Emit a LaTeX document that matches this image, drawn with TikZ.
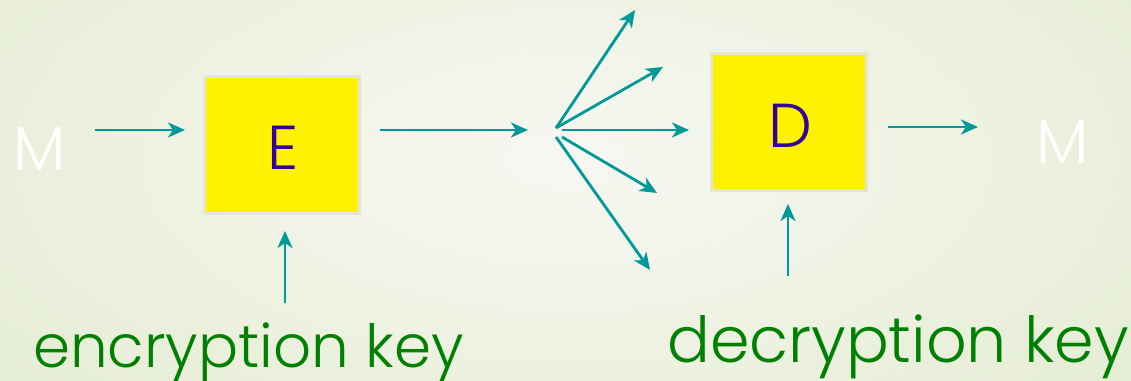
\documentclass[tikz,border=0pt]{standalone}
\usepackage{fontspec}
\setmainfont{Poppins}[UprightFont={* Light}]
\usetikzlibrary{arrows.meta}
\definecolor{bgside}{HTML}{E6EDD5}
\definecolor{bgmid}{HTML}{F7F8F2}
\definecolor{teal}{HTML}{009999}
\definecolor{boxedge}{HTML}{E2E6D2}
\definecolor{letter}{HTML}{330099}
\definecolor{keygreen}{HTML}{008000}
\tikzset{
  flow/.style={draw=teal, line width=2.8pt, -{Stealth[length=17pt, width=15pt, inset=5pt]}},
  cipherbox/.style={draw=boxedge, line width=3pt, fill=yellow, minimum width=155pt, minimum height=137pt, inner sep=0pt},
  boxletter/.style={text=letter, font=\fontsize{62}{62}\selectfont},
  msg/.style={text=white, font=\fontsize{62}{62}\selectfont},
  keylabel/.style={text=keygreen, anchor=base west, inner sep=0pt}
}
\begin{document}
\begin{tikzpicture}[x=1pt, y=1pt]
  \useasboundingbox (0,0) rectangle (1131,380);
  % background
  \begin{scope}
    \clip (0,0) rectangle (1131,380);
    \shade[inner color=bgmid, outer color=bgside] (-150,-120) rectangle (1281,560);
  \end{scope}

  % boxes
  \node[cipherbox] (E) at (282,235) {};
  \node[boxletter] at (283,232) {E};
  \node[cipherbox] (D) at (789,258) {};
  \node[boxletter] at (790,254) {D};

  % messages
  \node[msg] (Min) at (40,231) {M};
  \node[msg] (Mout) at (1063,238) {M};

  % key labels
  \node[keylabel, font=\fontsize{59.5}{60}\selectfont] (ekey) at (33,13) {encryption key};
  \node[keylabel, font=\fontsize{63.5}{64}\selectfont] (dkey) at (667,18) {decryption key};

  % connector end points
  \coordinate (a1s) at (95,250);   \coordinate (a1e) at (185,250);
  \coordinate (a2s) at (380,250);  \coordinate (a2e) at (528,250);
  \coordinate (fan) at (556,252);
  \coordinate (f1) at (635,370);
  \coordinate (f2) at (663,313);
  \coordinate (f3s) at (562,250); \coordinate (f3) at (689,250);
  \coordinate (f4s) at (562,243); \coordinate (f4) at (657,187);
  \coordinate (f5s) at (556,243); \coordinate (f5) at (650,110);
  \coordinate (a3s) at (888,253); \coordinate (a3e) at (978,253);
  \coordinate (ke1) at (285,77);  \coordinate (ke2) at (285,149);
  \coordinate (kd1) at (788,104); \coordinate (kd2) at (788,176);

  % arrows
  \draw[flow] (a1s) -- (a1e);
  \draw[flow] (a2s) -- (a2e);
  \draw[flow] (fan) -- (f1);
  \draw[flow] (fan) -- (f2);
  \draw[flow] (f3s) -- (f3);
  \draw[flow] (f4s) -- (f4);
  \draw[flow] (f5s) -- (f5);
  \draw[flow] (a3s) -- (a3e);
  \draw[flow] (ke1) -- (ke2);
  \draw[flow] (kd1) -- (kd2);
\end{tikzpicture}
\end{document}
